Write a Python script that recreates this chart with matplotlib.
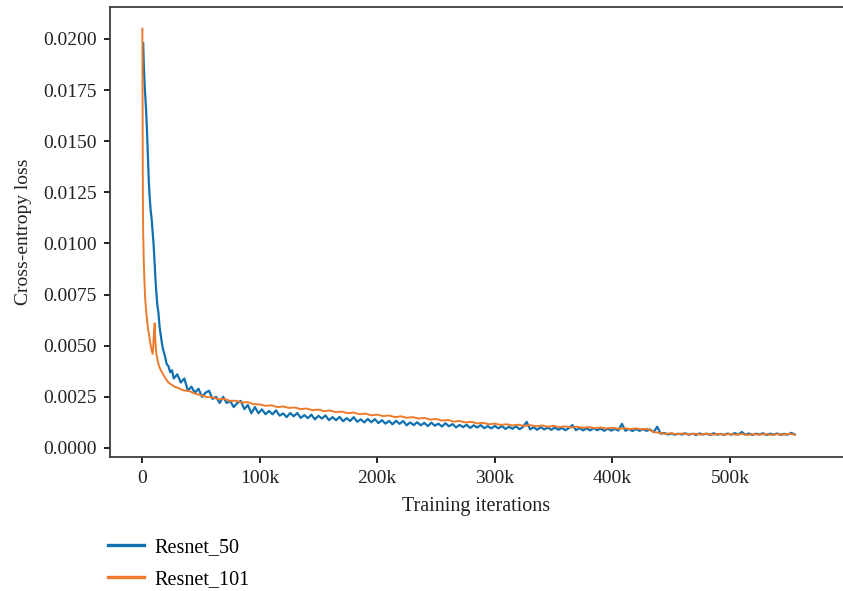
import matplotlib
matplotlib.use("Agg")
import matplotlib.pyplot as plt
from matplotlib.ticker import FuncFormatter, FixedLocator
import numpy as np

plt.rcParams['font.family'] = ['Liberation Serif', 'DejaVu Serif']

# Resnet_50 (blue) - iterations in thousands
r50_x_early = [1.0, 1.5, 2.2, 2.8, 3.5, 4.2, 5.0, 5.8, 6.6, 7.4, 8.2, 9.0, 9.8, 10.6,
               11.4, 12.2, 13.0, 14.0, 15.0, 16.0, 17.0, 18.0, 19.5, 21.0, 22.5, 24.0,
               25.5, 27.0]
r50_y_early = [0.0198, 0.0188, 0.0178, 0.0172, 0.0165, 0.0156, 0.0143, 0.0130, 0.0122,
               0.0116, 0.0112, 0.0106, 0.0100, 0.0092, 0.0083, 0.0076, 0.0070, 0.0066,
               0.0059, 0.0055, 0.0051, 0.0048, 0.0045, 0.0041, 0.0040, 0.0037, 0.0038,
               0.0034]
r50_x_rest = list(range(30, 556, 3))
r50_y_rest = [
    # 30k - 99k
    0.0036, 0.0032, 0.0034, 0.0028, 0.0030, 0.0027, 0.0029, 0.0025, 0.0027, 0.0028,
    0.0024, 0.0025, 0.0022, 0.0025, 0.0022, 0.0023, 0.0020, 0.0022, 0.0023, 0.0019,
    0.0021, 0.0017, 0.0020, 0.0017,
    # 102k - 201k
    0.00189, 0.00165, 0.00181, 0.00165, 0.00184, 0.00158, 0.00169, 0.00151, 0.00171, 0.00155,
    0.00171, 0.00147, 0.00161, 0.00146, 0.00163, 0.00140, 0.00157, 0.00144, 0.00159, 0.00136,
    0.00151, 0.00136, 0.00152, 0.00131, 0.00146, 0.00132, 0.00151, 0.00128, 0.00140, 0.00125,
    0.00142, 0.00126, 0.00141, 0.00122,
    # 204k - 300k
    0.00136, 0.00119, 0.00132, 0.00116, 0.00133, 0.00118, 0.00132, 0.00111, 0.00125, 0.00112,
    0.00126, 0.00111, 0.00123, 0.00107, 0.00124, 0.00109, 0.00119, 0.00105, 0.00121, 0.00106,
    0.00117, 0.00101, 0.00113, 0.00102, 0.00114, 0.00098, 0.00111, 0.00100, 0.00112, 0.00097,
    0.00107, 0.00096, 0.00108,
    # 303k - 432k
    0.00096, 0.00107, 0.00093, 0.00104, 0.00094, 0.00106, 0.00092, 0.00103, 0.00128, 0.00091,
    0.00102, 0.00089, 0.00102, 0.00091, 0.00100, 0.00089, 0.00100, 0.00089, 0.00098, 0.00087,
    0.00098, 0.00112, 0.00087, 0.00098, 0.00086, 0.00096, 0.00086, 0.00097, 0.00087, 0.00095,
    0.00084, 0.00094, 0.00085, 0.00094, 0.00085, 0.00118, 0.00084, 0.00093, 0.00083, 0.00093,
    0.00084, 0.00092, 0.00084, 0.00090,
    # 435k - 555k
    0.00078, 0.00104, 0.00070, 0.00074, 0.00066, 0.00071, 0.00065, 0.00070, 0.00066, 0.00072,
    0.00065, 0.00070, 0.00064, 0.00071, 0.00066, 0.00070, 0.00064, 0.00072, 0.00065, 0.00069,
    0.00064, 0.00071, 0.00065, 0.00073, 0.00066, 0.00078, 0.00065, 0.00071, 0.00064, 0.00070,
    0.00066, 0.00072, 0.00064, 0.00070, 0.00065, 0.00071, 0.00064, 0.00069, 0.00065, 0.00074,
    0.00066,
]

# Resnet_101 (orange)
r101_x_early = [0.3, 0.45, 0.6, 0.75, 1.0, 1.5, 2.0, 2.6, 3.4, 4.2, 5.0, 5.8, 6.6, 7.4,
                8.2, 9.0, 9.6, 10.2, 10.8, 11.4, 12.2, 13.2, 14.5, 16.0, 18.0, 20.0,
                22.5, 25.0, 27.5]
r101_y_early = [0.0205, 0.0180, 0.0150, 0.0125, 0.0105, 0.0092, 0.0083, 0.0074, 0.0068,
                0.0063, 0.0059, 0.0056, 0.0053, 0.0050, 0.0048, 0.0046, 0.0050, 0.0057,
                0.0061, 0.0052, 0.0046, 0.0043, 0.0040, 0.0038, 0.0036, 0.0034, 0.0032,
                0.0031, 0.0030]
r101_x_rest = list(range(30, 556, 5))
r101_y_rest = [
    0.00295, 0.00282, 0.00279, 0.00266, 0.00258, 0.00249, 0.00248, 0.00238, 0.00240, 0.00230,
    0.00231, 0.00222, 0.00224, 0.00214, 0.00213,
    0.00206, 0.00209, 0.00200, 0.00203, 0.00196, 0.00198, 0.00190, 0.00193, 0.00185, 0.00188,
    0.00180, 0.00183, 0.00175, 0.00178, 0.00170, 0.00173, 0.00165, 0.00168, 0.00160, 0.00163,
    0.00156, 0.00159, 0.00151, 0.00155, 0.00148, 0.00151, 0.00144, 0.00147, 0.00139, 0.00142,
    0.00134, 0.00137, 0.00129, 0.00132, 0.00125, 0.00128, 0.00120, 0.00123, 0.00116, 0.00119,
    0.00113, 0.00116, 0.00110, 0.00114, 0.00108, 0.00112, 0.00106, 0.00110, 0.00104, 0.00108,
    0.00102, 0.00106, 0.00100, 0.00104, 0.00099, 0.00102, 0.00097, 0.00100, 0.00095, 0.00099,
    0.00094, 0.00097, 0.00092, 0.00096, 0.00091, 0.00094, 0.00078, 0.00074, 0.00069, 0.00072,
    0.00067, 0.00071, 0.00066, 0.00070, 0.00066, 0.00070, 0.00065, 0.00069, 0.00065, 0.00069,
    0.00065, 0.00069, 0.00064, 0.00068, 0.00065, 0.00069, 0.00064, 0.00068, 0.00065, 0.00069,
    0.00066,
]

x_ticks = [0, 100, 200, 300, 400, 500]
y_ticks = [0.0, 0.0025, 0.005, 0.0075, 0.01, 0.0125, 0.015, 0.0175, 0.02]

r50_x = np.array(r50_x_early + r50_x_rest) * 1000
r50_y = np.array(r50_y_early + r50_y_rest)
r101_x = np.array(r101_x_early + r101_x_rest) * 1000
r101_y = np.array(r101_y_early + r101_y_rest)

fig = plt.figure(figsize=(8.43, 5.91), dpi=100)
ax = fig.add_axes([110 / 843, 1 - 457 / 591, 1 - 110 / 843, 450 / 591])

ax.plot(r50_x, r50_y, color='#1170b0', lw=1.6, label='Resnet_50')
ax.plot(r101_x, r101_y, color='#ee7b2c', lw=1.4, label='Resnet_101')

ax.set_xlim(-27200, 596000)
ax.set_ylim(-0.00044, 0.02156)

ax.xaxis.set_major_locator(FixedLocator([t * 1000 for t in x_ticks]))
ax.xaxis.set_major_formatter(FuncFormatter(lambda v, p: '0' if v == 0 else f'{int(v / 1000)}k'))
ax.yaxis.set_major_locator(FixedLocator(y_ticks))
ax.yaxis.set_major_formatter(FuncFormatter(lambda v, p: f'{v:.4f}'))

for s in ['left', 'bottom', 'top']:
    ax.spines[s].set_color('#3c3c3c')
    ax.spines[s].set_linewidth(1.3)
ax.spines['right'].set_visible(False)
ax.tick_params(axis='both', direction='out', length=4.5, width=1.4, colors='#222222',
               labelsize=14, labelcolor='#222222', pad=5)

ax.set_xlabel('Training iterations', fontsize=14.5, color='#222222', labelpad=7)
ax.set_ylabel('Cross-entropy loss', fontsize=14, color='#222222', labelpad=8)

leg = fig.legend(loc='upper left', bbox_to_anchor=(108 / 843, 1 - 538 / 591), frameon=False,
                 fontsize=14.5, handlelength=1.8, handletextpad=0.5, labelspacing=0.62,
                 borderpad=0, borderaxespad=0)
for line in leg.get_lines():
    line.set_linewidth(2.4)

fig.savefig('out.png', dpi=100)
